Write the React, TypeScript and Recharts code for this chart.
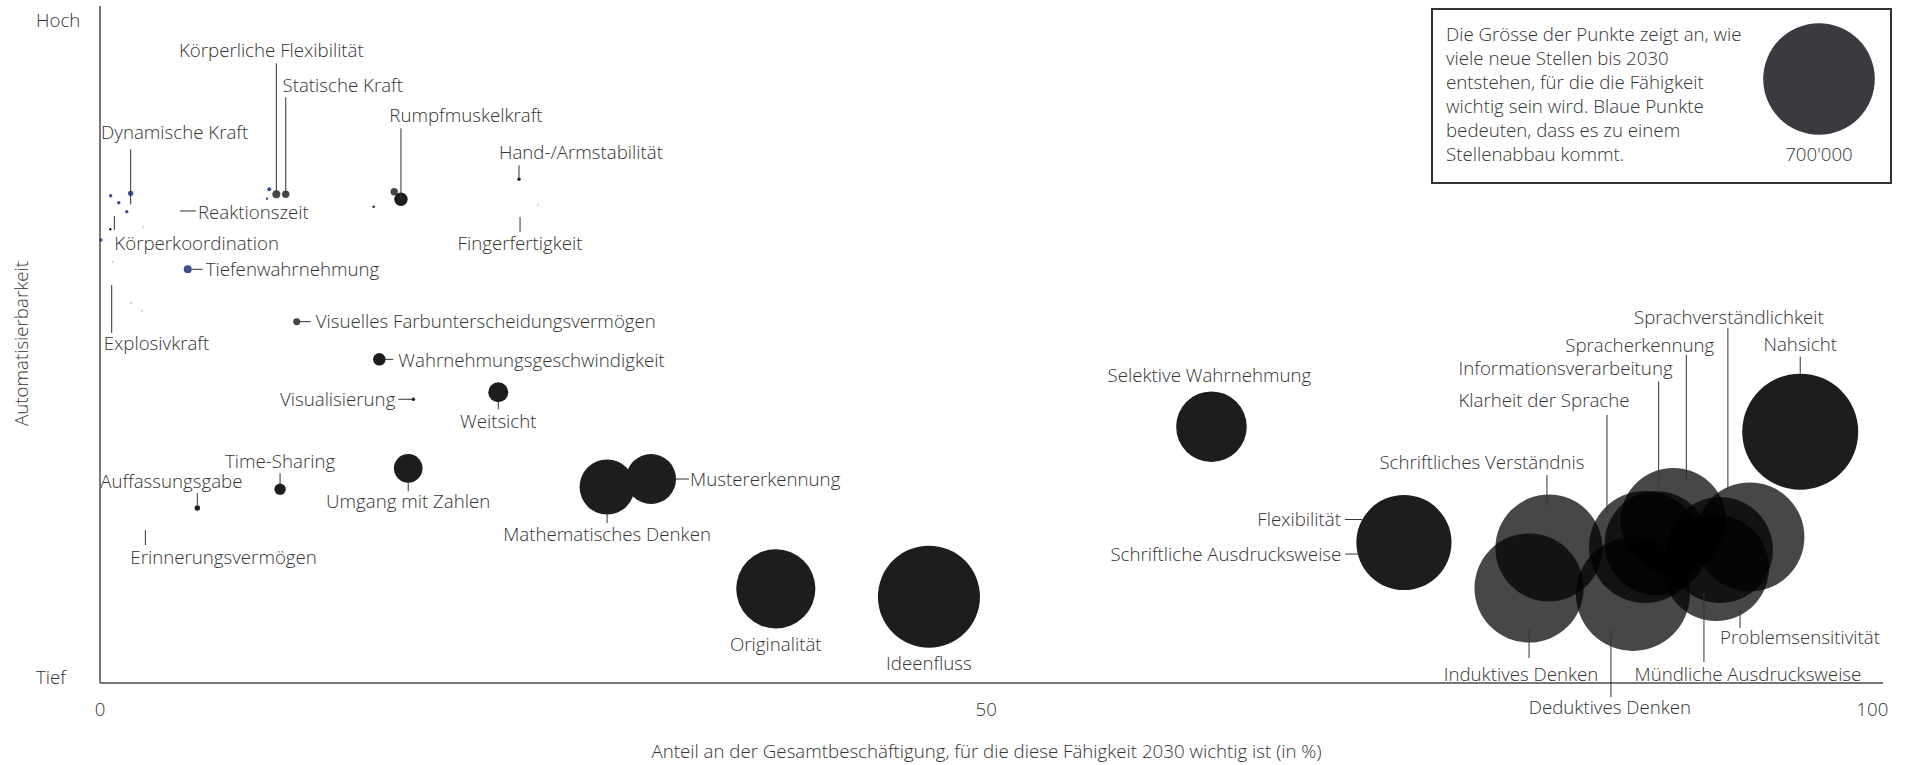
import React from "react";
import { ScatterChart, Scatter, XAxis, YAxis, ZAxis, Label } from "recharts";

// one entry per point; "" = unlabelled dot
const abilities = [
  "", "", "", "", "",
  "Körperkoordination", "Explosivkraft", "Reaktionszeit", "Fingerfertigkeit", "Erinnerungsvermögen",
  "", "", "", "", "", "",
  "Körperliche Flexibilität", "Statische Kraft", "", "Visuelles Farbunterscheidungsvermögen",
  "Rumpfmuskelkraft", "Hand-/Armstabilität", "Wahrnehmungsgeschwindigkeit", "Visualisierung",
  "Weitsicht", "Time-Sharing", "Auffassungsgabe", "Umgang mit Zahlen", "Mathematisches Denken",
  "Mustererkennung", "Originalität", "Ideenfluss", "Selektive Wahrnehmung", "Flexibilität",
  "Schriftliche Ausdrucksweise", "Nahsicht",
  "Schriftliches Verständnis", "Induktives Denken", "Deduktives Denken", "Klarheit der Sprache",
  "Informationsverarbeitung", "Spracherkennung", "Sprachverständlichkeit",
  "Mündliche Ausdrucksweise", "Problemsensitivität",
  "Dynamische Kraft", "", "", "", "", "Tiefenwahrnehmung", "", "",
];

// Anteil an der Gesamtbeschäftigung (%)
const share = [
  2.43, 0.73, 1.75, 2.37, 24.71,
  0.81, 0.66, 4.34, 23.7, 2.56,
  0.58, 15.44, 0, 0, 0, 0,
  9.95, 10.48, 16.6, 11.1,
  16.98, 23.64, 15.76, 17.68,
  22.47, 10.16, 5.49, 17.39, 28.61,
  31.09, 38.13, 46.77, 62.71, 73.57,
  71.28, 95.93,
  81.75, 80.63, 86.49, 87.17,
  87.83, 88.77, 93.09,
  91.4, 91.18,
  1.73, 0.6, 1.06, 1.51, 0.05, 4.95, 9.55, 9.42,
];

// Automatisierbarkeit (0 = tief, 100 = hoch)
const automation = [
  67.36, 62.19, 56.13, 54.95, 70.61,
  69.42, 59.38, 69.72, 69.87, 23.19,
  67.02, 70.35, 0, 0, 0, 0,
  72.19, 72.19, 72.57, 53.37,
  71.45, 74.4, 47.81, 41.91,
  42.94, 28.61, 25.85, 31.71, 28.95,
  30.13, 13.91, 12.75, 37.86, 20.75,
  19.05, 37.12,
  19.94, 14.03, 13.15, 20.09,
  20.64, 23.93, 21.57,
  19.65, 16.99,
  72.33, 71.98, 70.94, 69.62, 65.44, 61.11, 72.92, 71.54,
];

// neue (bzw. wegfallende) Stellen bis 2030
const jobs = [
  300, 300, 300, 300, 300,
  0, 0, 0, 0, 0,
  320, 320, 0, 0, 0, 0,
  3600, 3080, 3080, 2750,
  10100, 650, 8900, 650,
  22500, 7300, 1640, 46000, 170000,
  140500, 352500, 585000, 280000, 509000,
  900, 756000,
  643000, 670000, 730000, 705000,
  608000, 631500, 668000,
  631500, 631500,
  1640, 650, 650, 650, 650, 3600, 900, 320,
];

const kind = [
  "faint", "faint", "faint", "faint", "faint",
  "none", "none", "none", "none", "none",
  "dark", "dark", "none", "none", "none", "none",
  "grey", "grey", "grey", "grey",
  "dark", "dark", "dark", "dark",
  "dark", "dark", "dark", "dark", "dark",
  "dark", "dark", "dark", "dark", "dark",
  "dark", "dark",
  "grey", "grey", "grey", "grey",
  "grey", "grey", "grey",
  "grey", "grey",
  "blue", "blue", "blue", "blue", "blue", "blue", "blue", "blue",
];

const xTicks = [0, 50, 100];
const xTickLabels = ["0", "50", "100"];
const yTicks = [0, 100];
const yTickLabels = ["Tief", "Hoch"];

const legendValue = 700000;
const legendValueLabel = "700'000";
const legendLines = [
  "Die Grösse der Punkte zeigt an, wie",
  "viele neue Stellen bis 2030",
  "entstehen, für die die Fähigkeit",
  "wichtig sein wird. Blaue Punkte",
  "bedeuten, dass es zu einem",
  "Stellenabbau kommt.",
];

const points = abilities.map((name, i) => ({
  name,
  x: share[i],
  y: automation[i],
  z: jobs[i],
  kind: kind[i],
})).filter((p) => p.kind !== "none" || p.name !== "");

// label placement relative to the point (px)
type Layout = { dx: number; dy: number; anchor?: "start" | "middle" | "end"; line?: number[] };
const labelLayout: Record<string, Layout> = {
  "Dynamische Kraft": { dx: 44, dy: -61, line: [0, -44, 0, 11] },
  "Körperkoordination": { dx: 0, dy: 30, anchor: "start", line: [0, 3, 0, 17] },
  "Explosivkraft": { dx: -8, dy: 62, anchor: "start", line: [0, 4, 0, 52] },
  "Reaktionszeit": { dx: 21, dy: 1, anchor: "start", line: [3, 0, 19, 0] },
  "Tiefenwahrnehmung": { dx: 18, dy: 0, anchor: "start", line: [4, 0, 15, 0] },
  "Körperliche Flexibilität": { dx: -5, dy: -144, line: [0, -131, 0, 0] },
  "Statische Kraft": { dx: 57, dy: -109, line: [0, -97, 0, 0] },
  "Rumpfmuskelkraft": { dx: 65, dy: -84, line: [0, -71, 0, 0] },
  "Hand-/Armstabilität": { dx: -20, dy: -27, anchor: "start", line: [0, -14, 0, -1] },
  "Fingerfertigkeit": { dx: 0, dy: 33, line: [0, 7, 0, 22] },
  "Visuelles Farbunterscheidungsvermögen": { dx: 19, dy: 0, anchor: "start", line: [3, 0, 14, 0] },
  "Wahrnehmungsgeschwindigkeit": { dx: 19, dy: 1, anchor: "start", line: [6, 0, 14, 0] },
  "Visualisierung": { dx: -18, dy: 0, anchor: "end", line: [-15, 0, 0, 0] },
  "Weitsicht": { dx: 0, dy: 29, line: [0, 9, 0, 17] },
  "Time-Sharing": { dx: 0, dy: -28, line: [0, -16, 0, -4] },
  "Auffassungsgabe": { dx: -26, dy: -27, line: [0, -15, 0, -3] },
  "Erinnerungsvermögen": { dx: -15, dy: 31, anchor: "start", line: [0, 4, 0, 19] },
  "Umgang mit Zahlen": { dx: 0, dy: 33, line: [0, 14, 0, 23] },
  "Mathematisches Denken": { dx: 0, dy: 47, line: [0, 26, 0, 36] },
  "Mustererkennung": { dx: 39, dy: 0, anchor: "start", line: [25, 0, 38, 0] },
  "Originalität": { dx: 0, dy: 56 },
  "Ideenfluss": { dx: 0, dy: 67 },
  "Selektive Wahrnehmung": { dx: -2, dy: -51 },
  "Flexibilität": { dx: -63, dy: -23, anchor: "end", line: [-59, -23, -42, -23] },
  "Schriftliche Ausdrucksweise": { dx: -22, dy: 0, anchor: "end", line: [-18, 0, -2, 0] },
  "Schriftliches Verständnis": { dx: -67, dy: -86, line: [-2, -73, -2, -43] },
  "Induktives Denken": { dx: -8, dy: 86, line: [0, 42, 0, 70] },
  "Deduktives Denken": { dx: -23, dy: 113, line: [-22, 36, -22, 103] },
  "Klarheit der Sprache": { dx: -101, dy: -147, line: [-38, -132, -38, -34] },
  "Informationsverarbeitung": { dx: 16, dy: -175, anchor: "end", line: [2, -162, 2, -57] },
  "Spracherkennung": { dx: 41, dy: -176, anchor: "end", line: [13, -166, 13, -41] },
  "Sprachverständlichkeit": { dx: -21, dy: -220, line: [-22, -209, -22, -47] },
  "Mündliche Ausdrucksweise": { dx: 28, dy: 124, line: [-16, 43, -16, 112] },
  "Problemsensitivität": { dx: 84, dy: 69, line: [24, 42, 24, 60] },
  "Nahsicht": { dx: 0, dy: -87, line: [0, -75, 0, -58] },
};

const labelled = points.filter((p) => labelLayout[p.name]);

const FONT = "'Open Sans', 'Noto Sans', sans-serif";
const FS = 18.7;
const TEXT = "#333";
const Z_MAX = 1000000;
const AREA_MAX = 13974; // px² for Z_MAX -> 700'000 ≈ 56px radius

const fills: Record<string, string> = { dark: "#1d1d1b", grey: "#000", blue: "#3f4d8f", faint: "#d6d6d6" };
const opac: Record<string, number> = { dark: 1, grey: 0.72, blue: 1, faint: 1 };

const Bubble = (props: any) => {
  const { cx, cy, payload } = props;
  if (!payload || payload.kind === "none") return <g />;
  const size = props.size ?? Math.PI * Math.pow((props.width || 0) / 2, 2);
  const r = Math.sqrt(Math.max(size, 0) / Math.PI);
  return <circle cx={cx} cy={cy} r={r} fill={fills[payload.kind]} fillOpacity={opac[payload.kind]} />;
};

const Annotation = (props: any) => {
  const { cx, cy, payload } = props;
  const l = labelLayout[payload?.name];
  if (!l) return <g />;
  return (
    <g>
      {l.line && (
        <line x1={cx + l.line[0]} y1={cy + l.line[1]} x2={cx + l.line[2]} y2={cy + l.line[3]} stroke="#333" strokeWidth={1} />
      )}
      <text x={cx + l.dx} y={cy + l.dy} dy="0.35em" textAnchor={l.anchor || "middle"} fontSize={FS} fontWeight={300} fontFamily={FONT} fill={TEXT}>
        {payload.name}
      </text>
    </g>
  );
};

const XTick = (props: any) => {
  const i = xTicks.indexOf(props.payload.value);
  return (
    <text x={props.x} y={props.y + 26} dy="0.35em" textAnchor="middle" fontSize={FS} fontWeight={300} fontFamily={FONT} fill={TEXT}>
      {xTickLabels[i]}
    </text>
  );
};

const YTick = (props: any) => {
  const i = yTicks.indexOf(props.payload.value);
  const off = i === 0 ? -6 : 11;
  return (
    <text x={36} y={props.y + off} dy="0.35em" textAnchor="start" fontSize={FS} fontWeight={300} fontFamily={FONT} fill={TEXT}>
      {yTickLabels[i]}
    </text>
  );
};

const legendR = Math.sqrt(((legendValue / Z_MAX) * AREA_MAX) / Math.PI);

export default function App() {
  return (
    <div style={{ position: "relative", width: 1909, height: 765, fontFamily: FONT }}>
      <style>{"body{margin:0}"}</style>
      <ScatterChart width={1909} height={765} margin={{ top: 6, right: 26, bottom: 0, left: 0 }}>
        <XAxis
          type="number"
          dataKey="x"
          domain={[0, 100.6]}
          ticks={xTicks}
          height={82}
          tickLine={false}
          tickSize={0}
          tickMargin={0}
          axisLine={{ stroke: "#777", strokeWidth: 2 }}
          tick={<XTick />}
        >
          <Label
            content={(p: any) => {
              const vb = p.viewBox || { x: 100, y: 683, width: 1783 };
              return (
                <text x={vb.x + vb.width / 2 - 5} y={vb.y + 68} dy="0.35em" textAnchor="middle" fontSize={FS} fontWeight={300} fontFamily={FONT} fill={TEXT}>
                  Anteil an der Gesamtbeschäftigung, für die diese Fähigkeit 2030 wichtig ist (in %)
                </text>
              );
            }}
          />
        </XAxis>
        <YAxis
          type="number"
          dataKey="y"
          domain={[0, 100]}
          ticks={yTicks}
          width={100}
          tickLine={false}
          tickSize={0}
          tickMargin={0}
          axisLine={{ stroke: "#777", strokeWidth: 2 }}
          tick={<YTick />}
        >
          <Label
            content={(p: any) => {
              const vb = p.viewBox || { x: 0, y: 6, height: 677 };
              const cy = vb.y + vb.height / 2 - 1;
              return (
                <text x={21} y={cy} dy="0.35em" transform={`rotate(-90 21 ${cy})`} textAnchor="middle" fontSize={FS} fontWeight={300} fontFamily={FONT} fill={TEXT}>
                  Automatisierbarkeit
                </text>
              );
            }}
          />
        </YAxis>
        <ZAxis type="number" dataKey="z" domain={[0, Z_MAX]} range={[0, AREA_MAX]} />
        <Scatter data={points} shape={Bubble} isAnimationActive={false} />
        <Scatter data={labelled} shape={Annotation} isAnimationActive={false} />
      </ScatterChart>

      <div
        style={{
          position: "absolute",
          left: 1431,
          top: 8,
          width: 461,
          height: 176,
          boxSizing: "border-box",
          border: "2px solid #333",
          background: "#fff",
          color: TEXT,
          fontSize: FS,
          fontWeight: 300,
          lineHeight: "24px",
        }}
      >
        <div style={{ position: "absolute", left: 13, top: 12, whiteSpace: "nowrap" }}>
          {legendLines.map((t, i) => (
            <div key={i}>{t}</div>
          ))}
        </div>
        <svg style={{ position: "absolute", left: 0, top: 0 }} width={457} height={172}>
          <circle cx={386} cy={69} r={legendR} fill="#3a3b40" />
          <text x={386} y={144} dy="0.35em" textAnchor="middle" fontSize={FS} fontWeight={300} fontFamily={FONT} fill={TEXT}>
            {legendValueLabel}
          </text>
        </svg>
      </div>
    </div>
  );
}
